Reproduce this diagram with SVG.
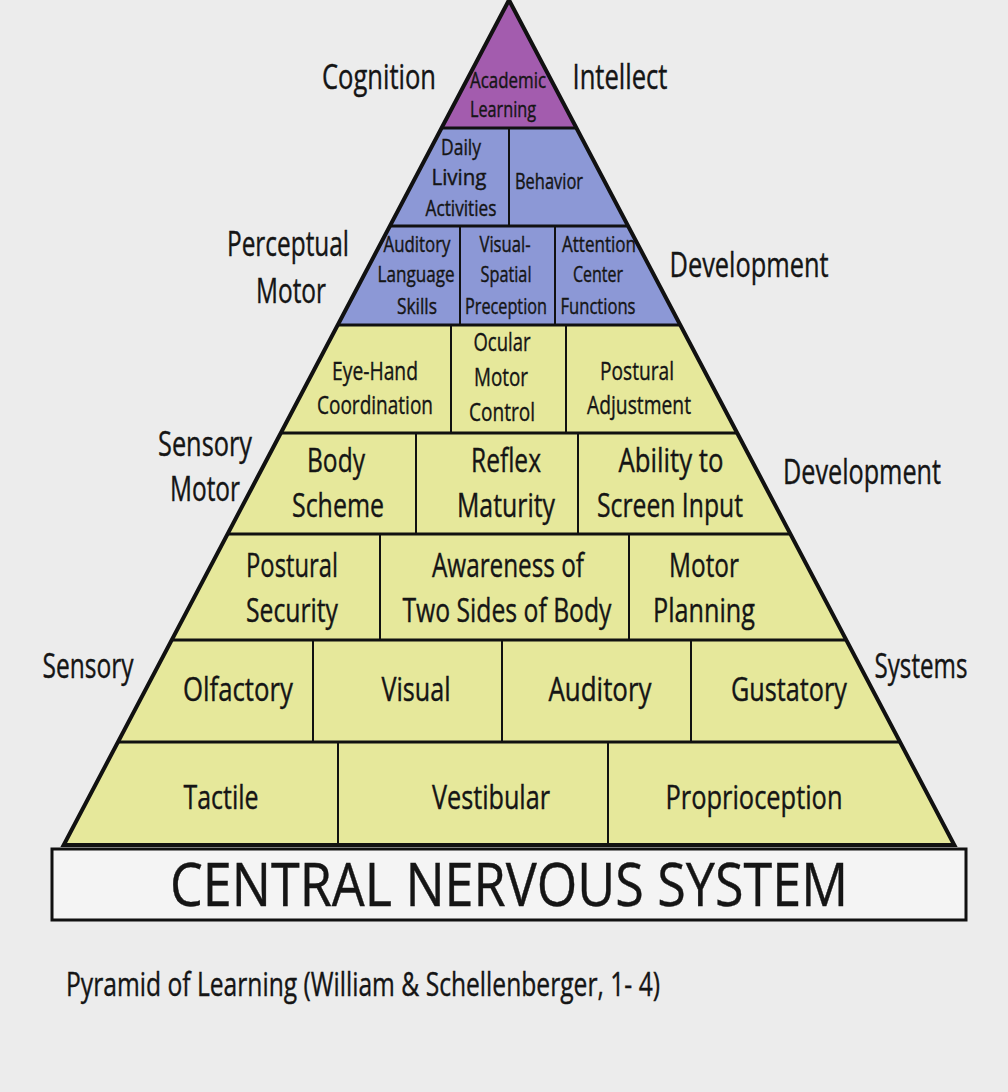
<svg xmlns="http://www.w3.org/2000/svg" width="1008" height="1092" viewBox="0 0 1008 1092">
<style>
text{font-family:"Open Sans","DejaVu Sans",sans-serif;fill:#151515;stroke:#151515;stroke-width:0.4;text-anchor:middle}
.p{fill:#A35CAE}.b{fill:#8C98D6}.y{fill:#E6E89B}
.s{font-size:21px}.m{font-size:26px}.l{font-size:33px}.o{font-size:34px}
.ln{stroke:#111;fill:none}
</style>
<rect width="1008" height="1092" fill="#ECECEC"/>
<g id="row1">
<g id="academic"><polygon class="p" points="509,0 576.5,128 441.5,128"/><text class="s" x="508" y="88" textLength="76" lengthAdjust="spacingAndGlyphs">Academic</text><text class="s" x="503" y="117" textLength="66" lengthAdjust="spacingAndGlyphs">Learning</text></g>
</g>
<g id="row2">
<g id="daily"><polygon class="b" points="441.5,128 509,128 509,226 389.9,226"/><text class="s" x="461" y="155" textLength="40" lengthAdjust="spacingAndGlyphs">Daily</text><text class="s" x="459" y="185" textLength="55" lengthAdjust="spacingAndGlyphs">Living</text><text class="s" x="461" y="216" textLength="71" lengthAdjust="spacingAndGlyphs">Activities</text></g>
<g id="behavior"><polygon class="b" points="509,128 576.5,128 628.1,226 509,226"/><text class="s" x="549" y="189" textLength="68" lengthAdjust="spacingAndGlyphs">Behavior</text></g>
</g>
<g id="row3">
<g id="auditory-lang"><polygon class="b" points="389.9,226 460,226 460,325 337.7,325"/><text class="s" x="417" y="252" textLength="67" lengthAdjust="spacingAndGlyphs">Auditory</text><text class="s" x="416" y="282" textLength="77" lengthAdjust="spacingAndGlyphs">Language</text><text class="s" x="417" y="314" textLength="40" lengthAdjust="spacingAndGlyphs">Skills</text></g>
<g id="visual-spatial"><polygon class="b" points="460,226 555,226 555,325 460,325"/><text class="s" x="505" y="252" textLength="51" lengthAdjust="spacingAndGlyphs">Visual-</text><text class="s" x="506" y="282" textLength="51" lengthAdjust="spacingAndGlyphs">Spatial</text><text class="s" x="506" y="314" textLength="82" lengthAdjust="spacingAndGlyphs">Preception</text></g>
<g id="attention"><polygon class="b" points="555,226 628.1,226 680.3,325 555,325"/><text class="s" x="599" y="252" textLength="74" lengthAdjust="spacingAndGlyphs">Attention</text><text class="s" x="598" y="282" textLength="50" lengthAdjust="spacingAndGlyphs">Center</text><text class="s" x="598" y="314" textLength="75" lengthAdjust="spacingAndGlyphs">Functions</text></g>
</g>
<g id="row4">
<g id="eye-hand"><polygon class="y" points="337.7,325 451,325 451,433 280.8,433"/><text class="m" x="375" y="380" textLength="86" lengthAdjust="spacingAndGlyphs">Eye-Hand</text><text class="m" x="375" y="414" textLength="116" lengthAdjust="spacingAndGlyphs">Coordination</text></g>
<g id="ocular"><polygon class="y" points="451,325 566,325 566,433 451,433"/><text class="m" x="502" y="351" textLength="57" lengthAdjust="spacingAndGlyphs">Ocular</text><text class="m" x="501" y="386" textLength="54" lengthAdjust="spacingAndGlyphs">Motor</text><text class="m" x="502" y="421" textLength="66" lengthAdjust="spacingAndGlyphs">Control</text></g>
<g id="postural-adj"><polygon class="y" points="566,325 680.3,325 737.2,433 566,433"/><text class="m" x="637" y="380" textLength="74" lengthAdjust="spacingAndGlyphs">Postural</text><text class="m" x="639" y="414" textLength="104" lengthAdjust="spacingAndGlyphs">Adjustment</text></g>
</g>
<g id="row5">
<g id="body-scheme"><polygon class="y" points="280.8,433 416,433 416,534 227.6,534"/><text class="l" x="336" y="472" textLength="58" lengthAdjust="spacingAndGlyphs">Body</text><text class="l" x="338" y="517" textLength="92" lengthAdjust="spacingAndGlyphs">Scheme</text></g>
<g id="reflex"><polygon class="y" points="416,433 578,433 578,534 416,534"/><text class="l" x="506" y="472" textLength="70" lengthAdjust="spacingAndGlyphs">Reflex</text><text class="l" x="506" y="517" textLength="98" lengthAdjust="spacingAndGlyphs">Maturity</text></g>
<g id="screen"><polygon class="y" points="578,433 737.2,433 790.4,534 578,534"/><text class="l" x="671" y="472" textLength="105" lengthAdjust="spacingAndGlyphs">Ability to</text><text class="l" x="670" y="517" textLength="146" lengthAdjust="spacingAndGlyphs">Screen Input</text></g>
</g>
<g id="row6">
<g id="postural-sec"><polygon class="y" points="227.6,534 380,534 380,640 171.7,640"/><text class="l" x="292" y="577" textLength="92" lengthAdjust="spacingAndGlyphs">Postural</text><text class="l" x="292" y="622" textLength="92" lengthAdjust="spacingAndGlyphs">Security</text></g>
<g id="awareness"><polygon class="y" points="380,534 629,534 629,640 380,640"/><text class="l" x="508" y="577" textLength="152" lengthAdjust="spacingAndGlyphs">Awareness of</text><text class="l" x="507" y="622" textLength="209" lengthAdjust="spacingAndGlyphs">Two Sides of Body</text></g>
<g id="motor-planning"><polygon class="y" points="629,534 790.4,534 846.3,640 629,640"/><text class="l" x="704" y="577" textLength="70" lengthAdjust="spacingAndGlyphs">Motor</text><text class="l" x="704" y="622" textLength="102" lengthAdjust="spacingAndGlyphs">Planning</text></g>
</g>
<g id="row7">
<g id="olfactory"><polygon class="y" points="171.7,640 313,640 313,742 118,742"/><text class="l" x="238" y="701" textLength="110" lengthAdjust="spacingAndGlyphs">Olfactory</text></g>
<g id="visual"><polygon class="y" points="313,640 502,640 502,742 313,742"/><text class="l" x="416" y="701" textLength="69" lengthAdjust="spacingAndGlyphs">Visual</text></g>
<g id="auditory"><polygon class="y" points="502,640 691,640 691,742 502,742"/><text class="l" x="600" y="701" textLength="103" lengthAdjust="spacingAndGlyphs">Auditory</text></g>
<g id="gustatory"><polygon class="y" points="691,640 846.3,640 900,742 691,742"/><text class="l" x="789" y="701" textLength="116" lengthAdjust="spacingAndGlyphs">Gustatory</text></g>
</g>
<g id="row8">
<g id="tactile"><polygon class="y" points="118,742 338,742 338,845 63.7,845"/><text class="l" x="221" y="809" textLength="75" lengthAdjust="spacingAndGlyphs">Tactile</text></g>
<g id="vestibular"><polygon class="y" points="338,742 608,742 608,845 338,845"/><text class="l" x="491" y="809" textLength="118" lengthAdjust="spacingAndGlyphs">Vestibular</text></g>
<g id="proprioception"><polygon class="y" points="608,742 900,742 954.3,845 608,845"/><text class="l" x="754" y="809" textLength="177" lengthAdjust="spacingAndGlyphs">Proprioception</text></g>
</g>
<g id="connectors">
<g class="ln" stroke-width="3">
<line x1="441.5" y1="128" x2="576.5" y2="128"/>
<line x1="389.9" y1="226" x2="628.1" y2="226"/>
<line x1="337.7" y1="325" x2="680.3" y2="325"/>
<line x1="280.8" y1="433" x2="737.2" y2="433"/>
<line x1="227.6" y1="534" x2="790.4" y2="534"/>
<line x1="171.7" y1="640" x2="846.3" y2="640"/>
<line x1="118" y1="742" x2="900" y2="742"/>
</g>
<g class="ln" stroke-width="2">
<line x1="509" y1="128" x2="509" y2="226"/>
<line x1="460" y1="226" x2="460" y2="325"/>
<line x1="555" y1="226" x2="555" y2="325"/>
<line x1="451" y1="325" x2="451" y2="433"/>
<line x1="566" y1="325" x2="566" y2="433"/>
<line x1="416" y1="433" x2="416" y2="534"/>
<line x1="578" y1="433" x2="578" y2="534"/>
<line x1="380" y1="534" x2="380" y2="640"/>
<line x1="629" y1="534" x2="629" y2="640"/>
<line x1="313" y1="640" x2="313" y2="742"/>
<line x1="502" y1="640" x2="502" y2="742"/>
<line x1="691" y1="640" x2="691" y2="742"/>
<line x1="338" y1="742" x2="338" y2="845"/>
<line x1="608" y1="742" x2="608" y2="845"/>
</g>
<polygon class="ln" stroke-width="4" stroke-linejoin="miter" points="509,0 954.3,845 63.7,845"/>
</g>
<g id="cns">
<rect x="52" y="849" width="914" height="71" fill="#F4F4F4" stroke="#111" stroke-width="3"/>
<text x="509" y="906" font-size="60" textLength="678" lengthAdjust="spacingAndGlyphs">CENTRAL NERVOUS SYSTEM</text>
</g>
<g id="labels">
<text class="o" x="379" y="89" textLength="114" lengthAdjust="spacingAndGlyphs">Cognition</text>
<text class="o" x="620" y="89" textLength="95" lengthAdjust="spacingAndGlyphs">Intellect</text>
<text class="o" x="288" y="256" textLength="122" lengthAdjust="spacingAndGlyphs">Perceptual</text>
<text class="o" x="291" y="303" textLength="70" lengthAdjust="spacingAndGlyphs">Motor</text>
<text class="o" x="749" y="277" textLength="159" lengthAdjust="spacingAndGlyphs">Development</text>
<text class="o" x="205" y="456" textLength="94" lengthAdjust="spacingAndGlyphs">Sensory</text>
<text class="o" x="205" y="501" textLength="70" lengthAdjust="spacingAndGlyphs">Motor</text>
<text class="o" x="862" y="484" textLength="158" lengthAdjust="spacingAndGlyphs">Development</text>
<text class="o" x="88" y="678" textLength="91" lengthAdjust="spacingAndGlyphs">Sensory</text>
<text class="o" x="921" y="678" textLength="93" lengthAdjust="spacingAndGlyphs">Systems</text>
<text x="363" y="996" font-size="33" textLength="594" lengthAdjust="spacingAndGlyphs">Pyramid of Learning (William &amp; Schellenberger, 1- 4)</text>
</g>
</svg>
